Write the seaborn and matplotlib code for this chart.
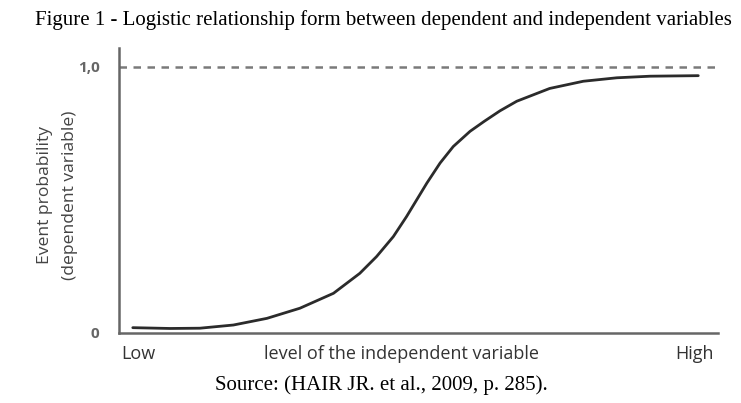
import matplotlib
matplotlib.use("Agg")
import matplotlib.pyplot as plt
import seaborn as sns
import pandas as pd

# Values (x: 0 = Low, 100 = High; y: probability)
level = [2.3, 8.5, 13.5, 19.1, 24.7, 30.2, 35.8, 40.2, 43.0, 45.8, 48.0,
         49.7, 51.4, 53.6, 55.8, 58.6, 61.0, 63.6, 66.4, 71.9, 77.5, 83.1,
         88.7, 96.7]
prob = [0.020, 0.017, 0.018, 0.030, 0.055, 0.093, 0.149, 0.224, 0.287, 0.362, 0.437,
        0.500, 0.563, 0.638, 0.700, 0.757, 0.795, 0.834, 0.870, 0.918, 0.945, 0.958,
        0.964, 0.966]

x_tick_pos = [3.2, 47.2, 96.0]
x_tick_labels = ["Low", "level of the independent variable", "High"]
y_tick_pos = [0.0, 1.0]
y_tick_labels = ["0", "1,0"]

title = "Figure 1 - Logistic relationship form between dependent and independent variables"
source = "Source: (HAIR JR. et al., 2009, p. 285)."

df = pd.DataFrame({"level": level, "prob": prob})

sns.set_style("white")
plt.rcParams["font.family"] = ["Open Sans", "DejaVu Sans"]

fig = plt.figure(figsize=(7.41, 4.03), dpi=100)
ax = fig.add_axes([0.1606, 0.1737, 0.8084, 0.7073])

sns.lineplot(data=df, x="level", y="prob", ax=ax, color="#2b2b2b", linewidth=2.0,
             solid_joinstyle="round", solid_capstyle="round")
ax.axhline(1.0, color="#7a7a7a", linewidth=1.8, linestyle=(0, (3, 2.6)))

ax.set_xlim(0, 100)
ax.set_ylim(0, 1.07)
ax.set_xlabel("")
ax.set_ylabel("")

for side in ["top", "right"]:
    ax.spines[side].set_visible(False)
for side in ["left", "bottom"]:
    ax.spines[side].set_color("#666666")
    ax.spines[side].set_linewidth(1.8)

ax.set_xticks(x_tick_pos)
ax.set_xticklabels(x_tick_labels, fontsize=13, color="#333333")
ax.set_yticks(y_tick_pos)
ax.set_yticklabels(y_tick_labels, fontsize=11, color="#666666", fontweight="bold")
ax.tick_params(axis="x", length=0, pad=9)
ax.tick_params(axis="y", length=0, pad=14)

fig.text(0.061, 0.515, "Event probability", rotation=90, ha="center", va="center",
         fontsize=12.6, color="#444444")
fig.text(0.095, 0.515, "(dependent variable)", rotation=90, ha="center", va="center",
         fontsize=12.6, color="#444444")

fig.text(0.517, 0.95, title, ha="center", va="center", fontsize=15.0,
         family="Liberation Serif", color="black")
fig.text(0.515, 0.045, source, ha="center", va="center", fontsize=15,
         family="Liberation Serif", color="black")

fig.savefig("out.png", dpi=100)
